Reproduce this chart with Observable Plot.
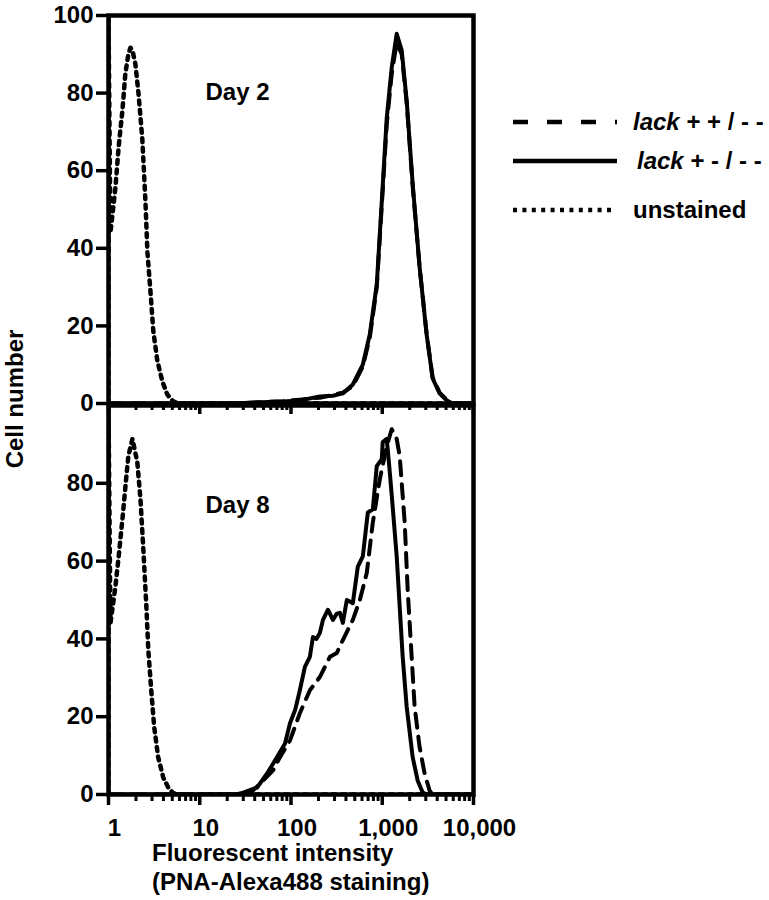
<!DOCTYPE html>
<html>
<head>
<meta charset="utf-8">
<script src="https://cdn.jsdelivr.net/npm/d3@7"></script>
<script src="https://cdn.jsdelivr.net/npm/@observablehq/plot@0.6"></script>
<style>
  body { margin: 0; background: #fff; }
  #wrap { position: relative; width: 769px; height: 900px; overflow: hidden;
          font-family: "Liberation Sans", Arial, Helvetica, sans-serif; font-weight: bold; color: #000; }
  .panel { position: absolute; left: 0; width: 490px; }
  .ylab { position: absolute; left: 15px; top: 399px; font-size: 24px; white-space: nowrap;
          transform: translate(-50%, -50%) rotate(-90deg); }
  .xlab { position: absolute; left: 152px; top: 838px; font-size: 24px; line-height: 29px; white-space: nowrap; }
  .legend { position: absolute; left: 513px; top: 0; }
  .row { position: absolute; left: 0; white-space: nowrap; font-size: 24px; }
  .row svg { position: absolute; left: 0; top: -6px; }
  .row span { position: absolute; top: -14px; line-height: 28px; }
</style>
</head>
<body>
<div id="wrap">
  <div class="panel" id="top" style="top:0"></div>
  <div class="panel" id="bottom" style="top:380px"></div>
  <div class="ylab">Cell number</div>
  <div class="xlab">Fluorescent intensity<br>(PNA-Alexa488 staining)</div>
  <div class="legend" id="legend"></div>
</div>
<script>
// ---------- data ----------
const seriesNames = ["lack++/--", "lack+-/--", "unstained"];
const panelLabels = ["Day 2", "Day 8"];
const majorTicks = [1, 10, 100, 1000, 10000];
const minorTicks = [2,3,4,5,6,7,8,9,20,30,40,50,60,70,80,90,200,300,400,500,600,700,800,900,2000,3000,4000,5000,6000,7000,8000,9000];
const yTicksTop = [0, 20, 40, 60, 80, 100];
const yTicksBottom = [0, 20, 40, 60, 80];

// Day 2
const d2UnstX = [1, 1, 1.05, 1.19, 1.29, 1.42, 1.53, 1.65, 1.74, 1.83, 1.97, 2.13, 2.35, 2.54, 2.67, 2.88, 3.10, 3.43, 3.89, 4.41, 5.13, 6.12, 10000];
const d2UnstY = [0, 100, 44, 55.5, 66, 75.5, 85, 90, 91.7, 91, 87.5, 80, 68, 52, 39, 29, 18.6, 11, 5.7, 2.3, 0.5, 0, 0];
const d2X = [1, 23.2, 35.6, 81.8, 125, 207, 288, 370, 476, 612, 730, 871, 988, 1120, 1270, 1440, 1634, 1853, 2155, 2570, 3064, 3562, 4250, 5070, 5890, 10000];
const d2HetY = [0, 0, 0.2, 0.5, 0.8, 1.8, 2, 2.6, 4.9, 10, 17.8, 30.7, 52, 73.6, 86.6, 95.3, 91, 78, 56.6, 35, 17.8, 6.5, 2.6, 0.8, 0, 0];
const d2WtY  = [0, 0, 0.2, 0.6, 1, 1.5, 2.2, 2.8, 4.5, 9.5, 17, 30, 51, 72, 85, 93, 90, 77.5, 56, 35, 18, 6.8, 2.8, 1, 0, 0];

// Day 8
const d8UnstX = [1, 1, 1.05, 1.19, 1.29, 1.42, 1.53, 1.65, 1.83, 2.07, 2.24, 2.41, 2.60, 2.73, 2.94, 3.17, 3.50, 3.98, 4.52, 5.13, 6.12, 10000];
const d8UnstY = [0, 100, 44, 53.4, 61, 70.7, 79, 87, 91.4, 85.4, 75.9, 63, 48.3, 37.2, 26.8, 17.3, 9.6, 4.4, 1.8, 0.3, 0, 0];
const d8HetX = [1, 25, 29.9, 42.5, 54.7, 70.3, 86, 97.5, 111, 125, 142, 161, 174, 190, 207, 224, 254, 288, 318, 343, 370, 409, 476, 540, 612, 695, 788, 871, 988, 1012, 1120, 1208, 1270, 1440, 1553, 1675, 1853, 2155, 2443, 2773, 3141, 10000];
const d8HetY = [0, 0, 0.5, 1.8, 5.4, 9.6, 13.1, 18.3, 21.7, 26.8, 32.8, 35.4, 40.5, 40, 41.5, 44.9, 47.5, 44.9, 46.5, 46.7, 44.1, 50, 49.2, 58.6, 61.2, 72.5, 73.3, 84.4, 86.2, 90.6, 91.4, 83, 77, 61.2, 48.3, 35.4, 22.5, 9.6, 3.6, 0.5, 0, 0];
const d8WtX = [1, 30, 35.6, 49.4, 63.6, 75.8, 97.5, 125, 161, 207, 267, 318, 370, 476, 568, 677, 788, 940, 1120, 1270, 1440, 1553, 1762, 1900, 2100, 2265, 2570, 2913, 3304, 3562, 10000];
const d8WtY = [0, 0, 0.3, 3.6, 6.2, 9.6, 13.9, 20.9, 26.8, 30.2, 35.4, 36.4, 39.7, 44.9, 50, 57, 69.9, 81, 89.5, 93.9, 91.4, 87, 69.9, 52.6, 35.4, 22.5, 12.1, 5.4, 1, 0, 0];

// ---------- build tables ----------
const toRows = (xs, ys, series) => xs.map((x, i) => ({x, y: ys[i], series}));
const day2 = [
  ...toRows(d2X, d2WtY, seriesNames[0]),
  ...toRows(d2X, d2HetY, seriesNames[1]),
  ...toRows(d2UnstX, d2UnstY, seriesNames[2])
];
const day8 = [
  ...toRows(d8WtX, d8WtY, seriesNames[0]),
  ...toRows(d8HetX, d8HetY, seriesNames[1]),
  ...toRows(d8UnstX, d8UnstY, seriesNames[2])
];

const lineStyles = {
  [seriesNames[0]]: {strokeWidth: 4, strokeDasharray: "14,9"},
  [seriesNames[1]]: {strokeWidth: 4},
  [seriesNames[2]]: {strokeWidth: 4.5, strokeDasharray: "4,5.5"}
};

const fontFamily = '"Liberation Sans", Arial, Helvetica, sans-serif';

function panel({rows, yTicks, label, height, marginTop, marginBottom, showX, labelDy}) {
  const marks = [
    Plot.axisX(minorTicks, {tickSize: 7, strokeWidth: 3, tickFormat: () => "", label: null}),
    Plot.axisX(majorTicks, {tickSize: 11, strokeWidth: 3.5, tickFormat: () => "", label: null}),
    Plot.axisY(yTicks, {tickSize: 12, tickPadding: 3, strokeWidth: 3.5, label: null, fontSize: 24, fontWeight: "bold"}),
    ...seriesNames.map(s => Plot.line(rows, {
      filter: d => d.series === s, x: "x", y: "y", stroke: "black",
      strokeLinejoin: "round", clip: true, ...lineStyles[s]
    })),
    Plot.frame({strokeWidth: 4.5}),
    Plot.text([label], {text: d => d, frameAnchor: "top-left", dx: 97, dy: labelDy,
      textAnchor: "start", lineAnchor: "middle", fontSize: 24, fontWeight: "bold"})
  ];
  if (showX) {
    marks.push(Plot.axisX(majorTicks, {tickSize: 0, tickPadding: 24, dx: 6, tickFormat: d3.format(","),
      label: null, fontSize: 24, fontWeight: "bold"}));
  }
  return Plot.plot({
    width: 490, height,
    marginLeft: 108, marginRight: 17, marginTop, marginBottom,
    x: {type: "log", domain: [1, 10000]},
    y: {domain: [0, 100]},
    style: {background: "transparent", fontFamily, fontWeight: "bold", color: "black", overflow: "visible"},
    marks
  });
}

document.getElementById("top").append(panel({
  rows: day2, yTicks: yTicksTop, label: panelLabels[0],
  height: 420, marginTop: 15, marginBottom: 17, showX: false, labelDy: 77
}));
document.getElementById("bottom").append(panel({
  rows: day8, yTicks: yTicksBottom, label: panelLabels[1],
  height: 520, marginTop: 25, marginBottom: 106, showX: true, labelDy: 100
}));

// ---------- legend ----------
const legendItems = [
  {name: seriesNames[0], html: "<i>lack</i> + + / - -", y: 122, textX: 120, dash: "15,19", len: 104},
  {name: seriesNames[1], html: "<i>lack</i> + - / - -", y: 161, textX: 124, dash: null, len: 104},
  {name: seriesNames[2], html: "unstained", y: 210, textX: 120, dash: "4,5.4", len: 102}
];
const legend = document.getElementById("legend");
for (const it of legendItems) {
  const row = document.createElement("div");
  row.className = "row";
  row.style.top = it.y + "px";
  row.innerHTML = `<svg width="106" height="12"><line x1="0" x2="${it.len}" y1="6" y2="6" stroke="black" stroke-width="4.5" ${it.dash ? `stroke-dasharray="${it.dash}"` : ""}/></svg><span style="left:${it.textX}px">${it.html}</span>`;
  legend.append(row);
}
</script>
</body>
</html>
